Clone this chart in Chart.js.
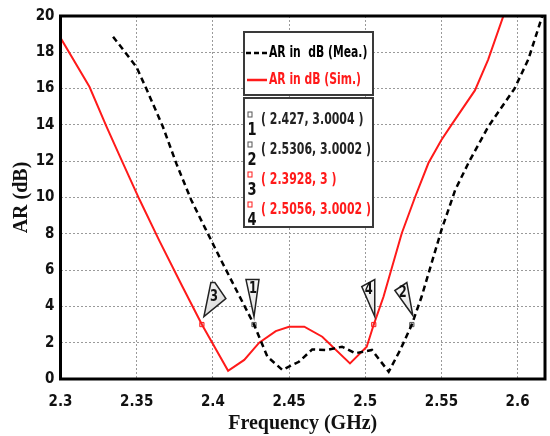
<!DOCTYPE html>
<html>
<head>
<meta charset="utf-8">
<script src="https://cdn.jsdelivr.net/npm/chart.js@4.4.1/dist/chart.umd.min.js"></script>
<style>
html,body{margin:0;padding:0;background:#fff;}
#wrap{width:550px;height:436px;position:relative;}
</style>
</head>
<body>
<div id="wrap"><canvas id="c" width="550" height="436"></canvas></div>
<script>
// ---- data ----
const freqMea = [2.3345, 2.3498, 2.3563, 2.3672, 2.376, 2.3858, 2.395, 2.4053, 2.427, 2.4358, 2.4456, 2.4565, 2.4652, 2.475, 2.4848, 2.4936, 2.5044, 2.5154, 2.523, 2.5306, 2.537, 2.550, 2.559, 2.5676, 2.5807, 2.598, 2.607, 2.617];
const arMea   = [18.86, 17.2, 16.0, 13.9, 11.88, 9.86, 8.3, 6.56, 3.0004, 1.23, 0.5, 0.95, 1.63, 1.6, 1.78, 1.42, 1.6, 0.4, 1.6, 3.0002, 4.53, 8.2, 10.4, 11.88, 13.9, 16.0, 17.6, 20.2];
const freqSim = [2.300, 2.319, 2.3302, 2.340, 2.352, 2.365, 2.380, 2.3928, 2.410, 2.4206, 2.4304, 2.4413, 2.450, 2.460, 2.4718, 2.490, 2.501, 2.5056, 2.512, 2.524, 2.5328, 2.5415, 2.550, 2.5566, 2.572, 2.5807, 2.5915];
const arSim   = [18.8, 16.1, 13.9, 12.07, 9.86, 7.6, 5.1, 3.0, 0.45, 1.05, 2.0, 2.64, 2.88, 2.88, 2.33, 0.86, 1.78, 3.0002, 4.53, 8.03, 10.04, 11.9, 13.17, 14.0, 15.9, 17.6, 20.2];
const markerIds  = ['1', '2', '3', '4'];
const markerFreq = [2.427, 2.5306, 2.3928, 2.5056];
const markerAR   = [3.0004, 3.0002, 3, 3.0002];
const markerSeries = ['Mea', 'Mea', 'Sim', 'Sim'];
const xTickValues = [2.3, 2.35, 2.4, 2.45, 2.5, 2.55, 2.6];
const yTickValues = [0, 2, 4, 6, 8, 10, 12, 14, 16, 18, 20];
const seriesNames = ['AR in  dB (Mea.)', 'AR in dB (Sim.)'];

const NARROW = "'Liberation Sans Narrow','DejaVu Sans Condensed','Arial Narrow',sans-serif";
const SERIF = "'Liberation Serif','DejaVu Serif',serif";
const RED = '#ff1a1a';

const toXY = (xs, ys) => xs.map((x, i) => ({x: x, y: ys[i]}));

// draw text horizontally condensed by factor sx
function narrowText(ctx, text, x, y, align, sx) {
  ctx.save();
  ctx.translate(x, y);
  ctx.scale(sx, 1);
  ctx.textAlign = align;
  ctx.textBaseline = 'middle';
  ctx.fillText(text, 0, 0);
  ctx.restore();
}

// flag shapes: offsets relative to marker pixel
const flagShapes = {
  '1': {pts: [[0,-8],[-8,-45],[5,-45]], txt: [-1,-35]},
  '2': {pts: [[1,-9],[-17,-34],[-5,-42]], txt: [-9,-31]},
  '3': {pts: [[2,-8],[9,-42],[13,-42],[24,-26]], txt: [12,-27]},
  '4': {pts: [[1,-8],[-12,-38],[1,-45]], txt: [-5,-34]}
};

const decor = {
  id: 'decor',
  afterDatasetsDraw(chart) {
    const ctx = chart.ctx, xs = chart.scales.x, ys = chart.scales.y, a = chart.chartArea;
    ctx.save();
    // flags
    markerIds.forEach((id, i) => {
      const mx = xs.getPixelForValue(markerFreq[i]);
      const my = ys.getPixelForValue(markerAR[i]);
      const f = flagShapes[id];
      ctx.beginPath();
      f.pts.forEach((p, k) => { if (k === 0) ctx.moveTo(mx + p[0], my + p[1]); else ctx.lineTo(mx + p[0], my + p[1]); });
      ctx.closePath();
      const g = ctx.createLinearGradient(mx - 15, my - 45, mx + 15, my - 8);
      g.addColorStop(0, '#ffffff');
      g.addColorStop(1, '#d8d8d8');
      ctx.fillStyle = g;
      ctx.fill();
      ctx.lineWidth = 1.5;
      ctx.strokeStyle = '#222';
      ctx.stroke();
      ctx.fillStyle = '#111';
      ctx.font = "bold 15px " + NARROW;
      narrowText(ctx, id, mx + f.txt[0], my + f.txt[1], 'center', 0.85);
    });
    // frame
    ctx.lineWidth = 3;
    ctx.strokeStyle = '#000';
    ctx.strokeRect(a.left, a.top, a.right - a.left, a.bottom - a.top);

    // legend box
    ctx.fillStyle = '#fff';
    ctx.fillRect(244, 32, 129, 63);
    ctx.lineWidth = 2;
    ctx.strokeStyle = '#3a3a3a';
    ctx.strokeRect(244, 32, 129, 63);
    ctx.setLineDash([5, 3]);
    ctx.lineWidth = 2.5;
    ctx.strokeStyle = '#000';
    ctx.beginPath(); ctx.moveTo(246, 53); ctx.lineTo(268, 53); ctx.stroke();
    ctx.setLineDash([]);
    ctx.strokeStyle = RED;
    ctx.beginPath(); ctx.moveTo(247, 80); ctx.lineTo(267, 80); ctx.stroke();
    ctx.font = "bold 15px " + NARROW;
    ctx.fillStyle = '#000';
    narrowText(ctx, seriesNames[0], 269, 53, 'left', 0.8);
    ctx.fillStyle = RED;
    narrowText(ctx, seriesNames[1], 269, 80, 'left', 0.8);

    // marker table box
    ctx.fillStyle = '#fff';
    ctx.fillRect(244, 98, 129, 129);
    ctx.lineWidth = 2;
    ctx.strokeStyle = '#3a3a3a';
    ctx.strokeRect(244, 98, 129, 129);
    markerIds.forEach((id, i) => {
      const cy = 120 + i * 30;
      const col = markerSeries[i] === 'Mea' ? '#222' : RED;
      ctx.lineWidth = 1;
      ctx.strokeStyle = markerSeries[i] === 'Mea' ? '#555' : RED;
      ctx.strokeRect(248, cy - 8, 4, 5);
      ctx.fillStyle = '#111';
      ctx.font = "bold 17px " + NARROW;
      narrowText(ctx, id, 252, cy + 11, 'center', 0.85);
      ctx.fillStyle = col;
      ctx.font = "bold 16px " + NARROW;
      narrowText(ctx, '( ' + markerFreq[i] + ', ' + markerAR[i] + ' )', 261, cy, 'left', 0.76);
    });
    ctx.restore();
  }
};

new Chart(document.getElementById('c'), {
  type: 'line',
  data: {
    datasets: [
      {
        label: seriesNames[0],
        data: toXY(freqMea, arMea),
        borderColor: '#000',
        borderWidth: 2.5,
        borderDash: [6, 4],
        pointRadius: 0,
        tension: 0,
        fill: false
      },
      {
        label: seriesNames[1],
        data: toXY(freqSim, arSim),
        borderColor: RED,
        borderWidth: 2,
        pointRadius: 0,
        tension: 0,
        fill: false
      },
      {
        label: 'markers',
        data: toXY(markerFreq, markerAR),
        showLine: false,
        pointStyle: 'rect',
        pointRadius: 3,
        pointBorderWidth: 1,
        pointBackgroundColor: '#ddd',
        pointBorderColor: markerSeries.map(s => s === 'Mea' ? '#555' : RED)
      }
    ]
  },
  options: {
    responsive: false,
    animation: false,
    devicePixelRatio: 1,
    layout: {padding: {top: 16, right: 3, left: 0, bottom: 0}},
    plugins: {legend: {display: false}, tooltip: {enabled: false}},
    scales: {
      x: {
        type: 'linear',
        min: 2.3,
        max: 2.618,
        afterBuildTicks: s => { s.ticks = xTickValues.map(v => ({value: v})); },
        afterFit: s => { s.height = 57; },
        grid: {color: '#9a9a9a', lineWidth: 1, drawTicks: false},
        border: {display: false, dash: [2, 2]},
        ticks: {
          padding: 14,
          color: '#111',
          font: {family: NARROW, size: 15, weight: 'bold'},
          callback: v => String(+Number(v).toFixed(2))
        },
        title: {
          display: true,
          text: 'Frequency (GHz)',
          color: '#111',
          font: {family: SERIF, size: 20, weight: 'bold'},
          padding: {top: 0, bottom: 0}
        }
      },
      y: {
        type: 'linear',
        min: 0,
        max: 20,
        afterBuildTicks: s => { s.ticks = yTickValues.map(v => ({value: v})); },
        afterFit: s => { s.width = 60.5; },
        grid: {color: '#9a9a9a', lineWidth: 1, drawTicks: false},
        border: {display: false, dash: [2, 2]},
        ticks: {
          padding: 6,
          color: '#111',
          font: {family: NARROW, size: 15, weight: 'bold'}
        },
        title: {
          display: true,
          text: 'AR (dB)',
          color: '#111',
          font: {family: SERIF, size: 20, weight: 'bold'},
          padding: {top: 10, bottom: 0}
        }
      }
    }
  },
  plugins: [decor]
});
</script>
</body>
</html>
